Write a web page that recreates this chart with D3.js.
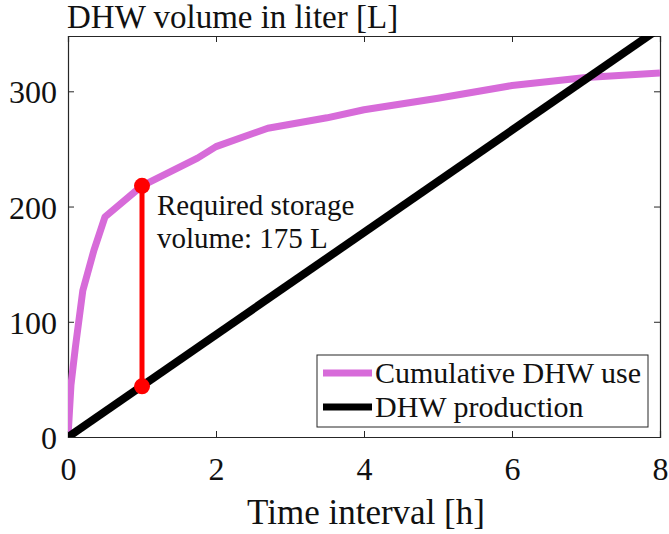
<!DOCTYPE html>
<html><head><meta charset="utf-8">
<script src="https://cdn.jsdelivr.net/npm/d3@7"></script>
<style>body{margin:0;background:#fff}</style>
</head><body><svg id="c" width="669" height="534"></svg>
<script>
const useTime = [0, 0.04, 0.1, 0.2, 0.35, 0.5, 1.0, 1.75, 2.0, 2.7, 3.5, 4.0, 5.0, 6.0, 7.0, 8.0];
const useVol  = [0, 45, 78, 127, 162, 191, 218, 242, 252, 268, 277, 284, 294, 305, 312, 316];
const prodTime = [0, 8];
const prodVol  = [0, 355];
const storageTime = 1.0;
const storageTop = 218;
const storageBottom = 44;
const xTicks = [0, 2, 4, 6, 8];
const yTicks = [0, 100, 200, 300];
const legendLabels = ["Cumulative DHW use", "DHW production"];

const FONT = '"Liberation Serif","Times New Roman",serif';
const svg = d3.select("#c");
const L = 68, R = 660, T = 36, B = 437;
const x = d3.scaleLinear().domain([0, 8]).range([L, R]);
const y = d3.scaleLinear().domain([0, 348]).range([B, T]);

svg.append("defs").append("clipPath").attr("id","clip")
  .append("rect").attr("x", L).attr("y", T).attr("width", R-L).attr("height", B-T);

const axisColor = "#262626";
const gx = svg.append("g").attr("transform",`translate(0,${B})`)
  .call(d3.axisBottom(x).tickValues(xTicks).tickSize(-6).tickFormat(d3.format("d")));
const gy = svg.append("g").attr("transform",`translate(${L},0)`)
  .call(d3.axisLeft(y).tickValues(yTicks).tickSize(-6).tickPadding(11).tickFormat(d3.format("d")));
const gxt = svg.append("g").attr("transform",`translate(0,${T})`)
  .call(d3.axisTop(x).tickValues(xTicks).tickSize(-6).tickFormat(""));
const gyr = svg.append("g").attr("transform",`translate(${R},0)`)
  .call(d3.axisRight(y).tickValues(yTicks).tickSize(-6).tickFormat(""));
[gx,gy,gxt,gyr].forEach(g=>{
  g.attr("font-family", FONT);
  g.selectAll("path.domain").attr("stroke",axisColor).attr("stroke-width",1.2);
  g.selectAll(".tick line").attr("stroke",axisColor).attr("stroke-width",1);
  g.selectAll(".tick text").style("font-family",FONT).style("font-size","32px").attr("fill","#111");
});
gx.selectAll(".tick text").attr("y",43).attr("dy",0);
gy.selectAll(".tick text").attr("dy","0.36em");

const plot = svg.append("g").attr("clip-path","url(#clip)");
const line = d3.line().x(d=>x(d[0])).y(d=>y(d[1]));
plot.append("path").datum(useTime.map((t,i)=>[t,useVol[i]]))
  .attr("d", line).attr("fill","none").attr("stroke","#d76bd9").attr("stroke-width",7).attr("stroke-linejoin","round");
plot.append("path").datum(prodTime.map((t,i)=>[t,prodVol[i]]))
  .attr("d", line).attr("fill","none").attr("stroke","#000").attr("stroke-width",8);

svg.append("line").attr("x1",x(storageTime)).attr("x2",x(storageTime))
  .attr("y1",y(storageTop)).attr("y2",y(storageBottom)).attr("stroke","#ff0000").attr("stroke-width",5);
svg.selectAll("circle.s").data([storageTop, storageBottom]).enter().append("circle")
  .attr("cx",x(storageTime)).attr("cy",d=>y(d)).attr("r",8).attr("fill","#ff0000");

function txt(xp, yp, s, size, anchor){
  return svg.append("text").attr("x",xp).attr("y",yp).attr("text-anchor",anchor||"start")
    .attr("font-family",FONT).style("font-family",FONT).style("font-size",size+"px").attr("fill","#111").text(s);
}
txt(157, 215, "Required storage", 29);
txt(157, 248, "volume: 175 L", 29);
txt(67, 28, "DHW volume in liter [L]", 33);
txt((L+R)/2 + 2, 524, "Time interval [h]", 35, "middle");

const lg = svg.append("g");
lg.append("rect").attr("x",317).attr("y",355).attr("width",331).attr("height",72)
  .attr("fill","#fff").attr("stroke",axisColor).attr("stroke-width",1);
const lcol = ["#d76bd9","#000"];
legendLabels.forEach((lab,i)=>{
  const yy = 373 + i*34;
  lg.append("line").attr("x1",323).attr("x2",372).attr("y1",yy).attr("y2",yy).attr("stroke",lcol[i]).attr("stroke-width",7);
  lg.append("text").attr("x",375).attr("y",yy+10).style("font-family",FONT).style("font-size","30px").attr("fill","#111").text(lab);
});
</script></body></html>
